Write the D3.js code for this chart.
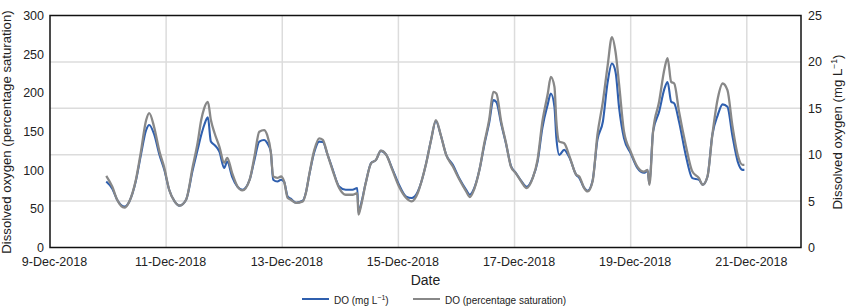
<!DOCTYPE html>
<html>
<head>
<meta charset="utf-8">
<script src="https://cdn.jsdelivr.net/npm/d3@7"></script>
<style>
  body { margin: 0; background: #fff; }
  text { font-family: "Liberation Sans", Arial, sans-serif; fill: #222; }
</style>
</head>
<body>
<div id="chart"></div>
<script>
// Hours since 9-Dec-2018 00:00
const hours = [
  23.25, 25.75, 27.75, 30.75, 32.75, 35.5, 37.5, 39.75, 41, 43,
  45.25, 47.25, 49.25, 51.5, 53.5, 56.25, 59, 61, 62.5, 63.75,
  65.25, 66.5, 68, 70, 72, 73.25, 75.25, 77.5, 79.5, 82.5,
  84.5, 86.5, 88.5, 89.75, 91.25, 92.25, 94, 95.5, 96.75, 98.25,
  99.5, 101.75, 104.5, 105.75, 107.25, 109.25, 111.25, 112.75, 114.75, 116.75,
  119.5, 122.25, 125, 127, 127.5, 128.5, 130.5, 132.75, 134.75, 136.75,
  139, 141.5, 144.25, 147.25, 149.5, 152, 153.5, 155.5, 157.5, 159.5,
  161.5, 163.75, 166.5, 169.25, 172, 173.5, 175.25, 177.5, 179.5, 181.5,
  183.25, 184.5, 186.5, 188.5, 190.5, 192.5, 194.75, 197, 199.5, 201.5,
  203.5, 205.75, 207, 208.5, 209.25, 210.5, 212.5, 214.75, 217.5, 218.75,
  220.75, 222.25, 224.25, 226.25, 228.5, 230.5, 232.25, 233.75, 235.25, 237.25,
  240, 242.75, 245.5, 247, 247.75, 249.25, 251.75, 254, 255.25, 256.75,
  258, 260, 262.75, 265.5, 268.25, 269.75, 271.75, 273.75, 276, 278,
  280, 282, 284.25, 286.25, 287
];

// DO (percentage saturation) - left axis
const doSat = [
  92.7, 78.5, 61.8, 51.5, 59.2, 87.6, 122.3, 164.8, 173.8, 156.2,
  124.0, 103.0, 74.7, 59.6, 54.1, 61.8, 104.7, 135.2, 164.8, 180.3,
  188.4, 164.8, 148.1, 130.4, 109.4, 115.9, 96.6, 78.9, 73.8, 87.6,
  117.6, 149.7, 151.9, 145.5, 124.0, 91.8, 90.1, 91.8, 85.4, 64.0,
  61.8, 57.6, 59.6, 70.4, 96.2, 126.2, 141.2, 139.1, 119.7, 100.4,
  76.9, 68.2, 68.2, 70.4, 42.5, 53.2, 83.3, 109.1, 113.3, 125.3,
  119.7, 100.4, 78.9, 64.0, 59.6, 70.4, 85.0, 109.1, 139.1, 164.8,
  145.5, 119.7, 104.7, 87.6, 72.5, 65.3, 74.7, 100.4, 134.8, 164.8,
  201.3, 199.2, 162.6, 134.8, 104.7, 96.2, 85.4, 76.9, 89.7, 113.3,
  162.6, 199.2, 220.6, 207.7, 164.8, 136.9, 134.8, 117.6, 94.0, 91.8,
  76.9, 72.5, 85.4, 145.5, 188.4, 235.6, 272.1, 252.8, 209.9, 149.7,
  124.0, 104.7, 98.2, 100.4, 81.1, 149.7, 188.4, 231.4, 245.0, 214.1,
  212.1, 175.5, 132.6, 98.2, 89.7, 81.1, 91.8, 145.5, 192.7, 212.1,
  203.4, 158.4, 119.7, 106.9, 106.9
];

// DO (mg L-1) - right axis
const doMg = [
  7.11, 6.33, 5.15, 4.40, 4.94, 7.19, 9.87, 12.66, 13.20, 12.23,
  9.98, 8.37, 6.22, 4.97, 4.51, 5.15, 8.37, 10.52, 12.12, 13.20,
  14.02, 11.41, 11.05, 10.33, 8.58, 9.26, 7.65, 6.55, 6.22, 7.30,
  9.44, 11.41, 11.59, 11.27, 10.33, 7.30, 7.11, 7.30, 7.08, 5.47,
  5.26, 4.83, 5.04, 5.90, 7.94, 10.30, 11.41, 11.37, 9.98, 8.48,
  6.58, 6.22, 6.22, 6.41, 3.76, 4.61, 6.97, 9.12, 9.44, 10.41,
  9.98, 8.48, 6.76, 5.47, 5.33, 6.01, 7.08, 9.12, 11.59, 13.63,
  12.12, 9.98, 8.91, 7.40, 6.22, 5.69, 6.33, 8.37, 11.05, 13.41,
  15.88, 15.67, 13.31, 11.16, 8.80, 8.05, 7.19, 6.55, 7.51, 9.23,
  12.88, 15.45, 16.60, 15.16, 11.94, 9.98, 10.52, 9.66, 7.83, 7.51,
  6.44, 6.12, 7.19, 11.59, 13.55, 17.84, 19.82, 18.92, 14.99, 11.77,
  10.16, 8.58, 8.05, 8.26, 6.87, 12.48, 14.62, 17.14, 17.84, 15.70,
  15.53, 13.55, 9.98, 7.48, 7.30, 6.76, 7.65, 12.12, 14.27, 15.42,
  15.16, 12.12, 9.26, 8.37, 8.37
];

const satTicks = [0, 50, 100, 150, 200, 250, 300];
const mgTicks = [0, 5, 10, 15, 20, 25];
const dateTicks = ["2018-12-09", "2018-12-11", "2018-12-13", "2018-12-15", "2018-12-17", "2018-12-19", "2018-12-21"];

const W = 846, H = 306;
const margin = {top: 15.5, right: 45, bottom: 58.5, left: 50};
const plotW = W - margin.left - margin.right,
    plotH = H - margin.top - margin.bottom;

const svg = d3.select("#chart")
    .append("svg")
    .attr("width", W)
    .attr("height", H)
    .append("g")
    .attr("transform", `translate(${margin.left},${margin.top})`);

const start = new Date(2018, 11, 9);
const toDate = h => new Date(start.getTime() + h * 3600e3);
const parseDay = d3.timeParse("%Y-%m-%d");

const x = d3.scaleTime()
    .domain([start, toDate(310.4)])
    .range([0, plotW]);
const ySat = d3.scaleLinear().domain([0, 300]).range([plotH, 0]);
const yMg = d3.scaleLinear().domain([0, 25]).range([plotH, 0]);

// gridlines (horizontal ones follow the right axis)
svg.append("g")
    .selectAll("line")
    .data(mgTicks.slice(1, -1))
    .join("line")
    .attr("x1", 0).attr("x2", plotW)
    .attr("y1", d => yMg(d)).attr("y2", d => yMg(d))
    .attr("stroke", "#dcdcdc")
    .attr("stroke-width", 1.5);

svg.append("g")
    .selectAll("line")
    .data(dateTicks.slice(1).map(parseDay))
    .join("line")
    .attr("x1", d => x(d)).attr("x2", d => x(d))
    .attr("y1", 0).attr("y2", plotH)
    .attr("stroke", "#dcdcdc")
    .attr("stroke-width", 1.5);

// series
const pts = hours.map((h, i) => ({t: toDate(h), sat: doSat[i], mg: doMg[i]}));

svg.append("path")
    .datum(pts)
    .attr("fill", "none")
    .attr("stroke", "#2f5fae")
    .attr("stroke-width", 2.1)
    .attr("stroke-linejoin", "round")
    .attr("d", d3.line().curve(d3.curveMonotoneX).x(d => x(d.t)).y(d => yMg(d.mg)));

svg.append("path")
    .datum(pts)
    .attr("fill", "none")
    .attr("stroke", "#888888")
    .attr("stroke-width", 2.3)
    .attr("stroke-linejoin", "round")
    .attr("d", d3.line().curve(d3.curveMonotoneX).x(d => x(d.t)).y(d => ySat(d.sat)));

// frame
svg.append("rect")
    .attr("width", plotW)
    .attr("height", plotH)
    .attr("fill", "none")
    .attr("stroke", "#111")
    .attr("stroke-width", 1.5);

// axes
const axLeft = svg.append("g")
    .call(d3.axisLeft(ySat).tickValues(satTicks).tickSize(0).tickPadding(6));
const axRight = svg.append("g")
    .attr("transform", `translate(${plotW},0)`)
    .call(d3.axisRight(yMg).tickValues(mgTicks).tickSize(0).tickPadding(7));
const axBottom = svg.append("g")
    .attr("transform", `translate(0,${plotH})`)
    .call(d3.axisBottom(x).tickValues(dateTicks.map(parseDay))
        .tickFormat(d3.timeFormat("%-d-%b-%Y")).tickSize(0).tickPadding(10));

[axLeft, axRight, axBottom].forEach(a => {
  a.select(".domain").remove();
  a.selectAll("text")
      .style("font-size", "12.5px")
      .style("font-family", "'Liberation Sans', Arial, sans-serif")
      .attr("fill", "#222");
});
axBottom.selectAll("text").attr("dx", 4);

// axis titles
svg.append("text")
    .attr("transform", `translate(${11 - margin.left},${132 - margin.top}) rotate(-90)`)
    .attr("text-anchor", "middle")
    .style("font-size", "13.2px")
    .text("Dissolved oxygen (percentage saturation)");

const rt = svg.append("text")
    .attr("transform", `translate(${842 - margin.left},${132 - margin.top}) rotate(-90)`)
    .attr("text-anchor", "middle")
    .style("font-size", "13.2px");
rt.append("tspan").text("Dissolved oxygen (mg L");
rt.append("tspan").attr("dy", -5).style("font-size", "8.5px").text("\u22121");
rt.append("tspan").attr("dy", 5).text(")");

svg.append("text")
    .attr("x", plotW / 2)
    .attr("y", 285 - margin.top)
    .attr("text-anchor", "middle")
    .style("font-size", "14px")
    .text("Date");

// legend
const leg = svg.append("g").attr("transform", `translate(${-margin.left},${-margin.top})`);
leg.append("line").attr("x1", 302).attr("x2", 329).attr("y1", 299).attr("y2", 299)
    .attr("stroke", "#2f5fae").attr("stroke-width", 2);
const l1 = leg.append("text").attr("x", 334).attr("y", 303.5).style("font-size", "10px");
l1.append("tspan").text("DO (mg L");
l1.append("tspan").attr("dy", -4).style("font-size", "7px").text("\u22121");
l1.append("tspan").attr("dy", 4).text(")");
leg.append("line").attr("x1", 413).attr("x2", 440).attr("y1", 299).attr("y2", 299)
    .attr("stroke", "#888888").attr("stroke-width", 2);
leg.append("text").attr("x", 445).attr("y", 303.5).style("font-size", "10px")
    .text("DO (percentage saturation)");
</script>
</body>
</html>
